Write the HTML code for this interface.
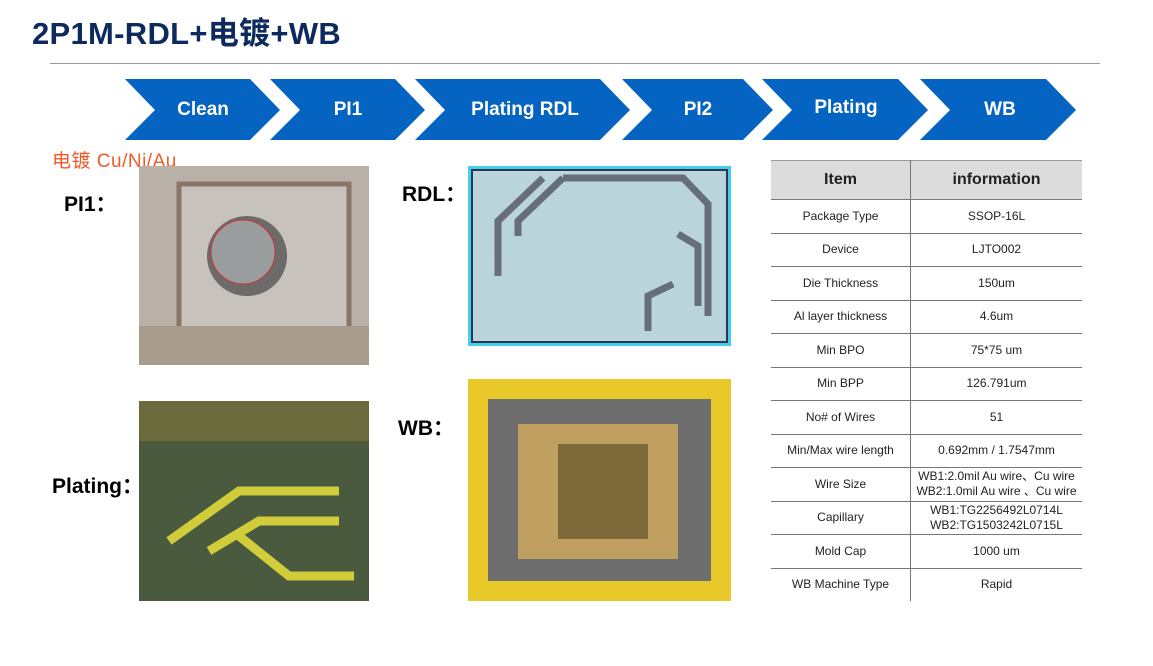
<!DOCTYPE html>
<html><head><meta charset="utf-8"><style>
body{margin:0;width:1153px;height:666px;background:#fff;position:relative;overflow:hidden;font-family:"Liberation Sans","Noto Sans CJK SC",sans-serif}
.a{position:absolute}
.lbl{position:absolute;font-weight:bold;font-size:21px;color:#000}
table{position:absolute;left:771px;top:160px;border-collapse:collapse;font-size:12px;color:#222;width:311px}
td{border-bottom:1.5px solid #777;text-align:center;height:32.5px;padding:0;line-height:15px}
td:first-child{border-right:1.5px solid #777;width:139px}
th{background:#dcdcdc;height:36px;font-size:16px;border-bottom:1.5px solid #777;border-top:1.5px solid #999}
th:first-child{border-right:1.5px solid #777}
</style></head><body>
<div class="a" style="left:32px;top:8px;font-size:31px;font-weight:bold;color:#0d2a5e;letter-spacing:0.3px">2P1M-RDL+电镀+WB</div>
<div class="a" style="left:50px;top:63px;width:1050px;height:1px;background:#999"></div>
<svg class="a" style="left:0;top:0" width="1153" height="150">
<g fill="#0563c1">
<polygon points="125,79 250,79 280,110 250,140 125,140 155,110"/>
<polygon points="270,79 395,79 425,110 395,140 270,140 300,110"/>
<polygon points="415,79 600,79 630,110 600,140 415,140 445,110"/>
<polygon points="622,79 743,79 773,110 743,140 622,140 652,110"/>
<polygon points="762,79 898,79 928,110 898,140 762,140 792,110"/>
<polygon points="920,79 1046,79 1076,110 1046,140 920,140 950,110"/>
</g>
<g fill="#fff" font-weight="bold" font-size="19" text-anchor="middle" font-family="Liberation Sans,sans-serif">
<text x="203" y="115">Clean</text><text x="348" y="115">PI1</text><text x="525" y="115">Plating RDL</text>
<text x="698" y="115">PI2</text><text x="846" y="113">Plating</text><text x="1000" y="115">WB</text>
</g></svg>
<div class="a" style="left:52px;top:146px;font-size:19px;color:#f05a28;letter-spacing:0.5px">电镀 Cu/Ni/Au</div>
<div class="lbl" style="left:64px;top:188px">PI1：</div>
<div class="lbl" style="left:402px;top:178px">RDL：</div>
<div class="lbl" style="left:52px;top:470px">Plating：</div>
<div class="lbl" style="left:398px;top:412px">WB：</div>
<svg class="a" style="left:139px;top:166px" width="230" height="199">
<rect width="230" height="199" fill="#b9b0a8"/>
<rect x="40" y="18" width="170" height="170" fill="#c8c2bc" stroke="#8a7468" stroke-width="5"/>
<rect x="0" y="160" width="230" height="39" fill="#a99c8c"/>
<circle cx="108" cy="90" r="40" fill="#6d6a6a"/><circle cx="104" cy="86" r="32" fill="#9a9d9e" stroke="#c33" stroke-width="1"/>
</svg>
<svg class="a" style="left:468px;top:166px" width="263" height="180">
<rect width="263" height="180" fill="#3fd0ef"/>
<rect x="4" y="4" width="255" height="172" fill="#b9d4da" stroke="#335" stroke-width="2"/>
<g stroke="#445" stroke-width="7" fill="none" opacity=".7">
<path d="M75,12 L30,55 L30,110"/><path d="M95,12 L50,55 L50,70"/><path d="M95,12 L215,12 L240,38 L240,150"/>
<path d="M210,68 L230,80 L230,140"/><path d="M205,118 L180,130 L180,165"/>
</g></svg>
<svg class="a" style="left:139px;top:401px" width="230" height="200">
<rect width="230" height="200" fill="#4a5a3e"/>
<rect y="0" width="230" height="40" fill="#6a6a3c"/>
<g stroke="#d0cc3a" stroke-width="9" fill="none">
<path d="M30,140 L100,90 L200,90"/><path d="M70,150 L120,120 L200,120"/><path d="M100,135 L150,175 L215,175"/></g>
</svg>
<svg class="a" style="left:468px;top:379px" width="263" height="222">
<rect width="263" height="222" fill="#e9c82a"/>
<rect x="20" y="20" width="223" height="182" fill="#6e6e6e"/>
<rect x="50" y="45" width="160" height="135" fill="#c0a060"/>
<rect x="90" y="65" width="90" height="95" fill="#7c6a3a"/>
</svg>
<table>
<tr><th>Item</th><th>information</th></tr>
<tr><td>Package Type</td><td>SSOP-16L</td></tr>
<tr><td>Device</td><td>LJTO002</td></tr>
<tr><td>Die Thickness</td><td>150um</td></tr>
<tr><td>Al layer thickness</td><td>4.6um</td></tr>
<tr><td>Min BPO</td><td>75*75 um</td></tr>
<tr><td>Min BPP</td><td>126.791um</td></tr>
<tr><td>No# of Wires</td><td>51</td></tr>
<tr><td>Min/Max wire length</td><td>0.692mm / 1.7547mm</td></tr>
<tr><td>Wire Size</td><td>WB1:2.0mil Au wire、Cu wire<br>WB2:1.0mil Au wire 、Cu wire</td></tr>
<tr><td>Capillary</td><td>WB1:TG2256492L0714L<br>WB2:TG1503242L0715L</td></tr>
<tr><td>Mold Cap</td><td>1000 um</td></tr>
<tr><td style="border-bottom:none">WB Machine Type</td><td style="border-bottom:none">Rapid</td></tr>
</table>
</body></html>
